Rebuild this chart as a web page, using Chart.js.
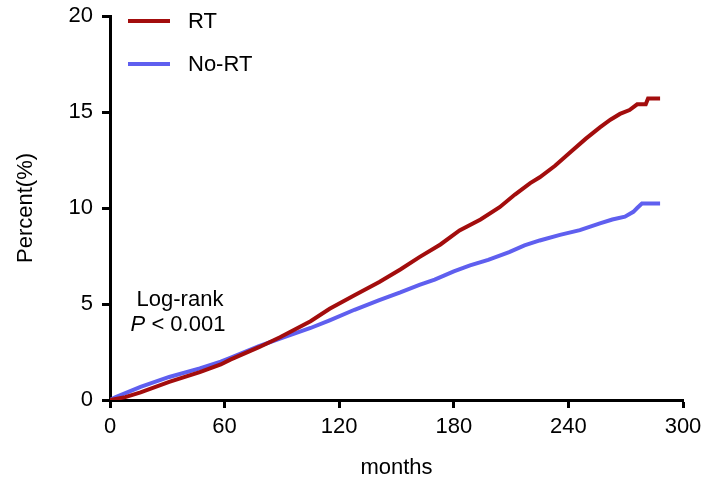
<!DOCTYPE html>
<html>
<head>
<meta charset="utf-8">
<script src="https://cdn.jsdelivr.net/npm/chart.js@4/dist/chart.umd.min.js"></script>
<style>
html,body{margin:0;padding:0;background:#fff;}
#wrap{width:704px;height:481px;position:relative;}
</style>
</head>
<body>
<div id="wrap"><canvas id="c" width="704" height="481"></canvas></div>
<script>
const rtMonths = [0, 8, 16, 31, 47, 58, 63, 78, 89, 105, 115, 128, 141, 152, 162, 173, 183, 194, 204, 212, 220, 225, 233, 241, 249, 256.5, 262, 267, 272, 276, 280.5, 281.7, 288];
const rtPct    = [0, 0.15, 0.4, 0.94, 1.45, 1.85, 2.1, 2.75, 3.27, 4.1, 4.75, 5.45, 6.15, 6.8, 7.44, 8.1, 8.83, 9.4, 10.04, 10.7, 11.3, 11.6, 12.2, 12.9, 13.6, 14.2, 14.6, 14.9, 15.1, 15.4, 15.4, 15.7, 15.7];
const noRtMonths = [0, 3, 16, 31, 47, 58, 63, 78, 89, 105, 115, 128, 141, 152, 162, 170, 180, 188.5, 198, 209, 217, 225, 235.6, 246, 256.5, 263, 269.6, 274, 276, 278.5, 288];
const noRtPct    = [0, 0.15, 0.68, 1.2, 1.65, 2.0, 2.2, 2.8, 3.2, 3.75, 4.15, 4.7, 5.2, 5.6, 6.0, 6.27, 6.7, 7.01, 7.3, 7.7, 8.05, 8.31, 8.6, 8.85, 9.2, 9.4, 9.55, 9.8, 10.0, 10.23, 10.23];
const seriesLabels = ['RT', 'No-RT'];
const seriesColors = ['#A30D0D', '#5F5FEF'];
const xTicks = [0, 60, 120, 180, 240, 300];
const yTicks = [0, 5, 10, 15, 20];
const xTitle = 'months';
const yTitle = 'Percent(%)';
const annot1 = 'Log-rank';
const annotP = 'P';
const annotRest = ' < 0.001';

const FONT = 'Arial, "Liberation Sans", sans-serif';
const FS = 22;

function pts(xs, ys){ return xs.map((x,i)=>({x:x, y:ys[i]})); }

const overlay = {
  id: 'overlay',
  afterDraw(chart){
    const ctx = chart.ctx;
    ctx.save();
    const legY = [21, 64];
    seriesLabels.forEach((lab,i)=>{
      ctx.strokeStyle = seriesColors[i];
      ctx.lineWidth = 4;
      ctx.beginPath();
      ctx.moveTo(128, legY[i]);
      ctx.lineTo(170, legY[i]);
      ctx.stroke();
      ctx.fillStyle = '#000';
      ctx.font = FS + 'px ' + FONT;
      ctx.textAlign = 'left';
      ctx.textBaseline = 'middle';
      ctx.fillText(lab, 188, legY[i] + 1);
    });
    ctx.fillStyle = '#000';
    ctx.font = FS + 'px ' + FONT;
    ctx.textAlign = 'center';
    ctx.textBaseline = 'middle';
    ctx.fillText(annot1, 180, 300);
    ctx.font = 'italic ' + FS + 'px ' + FONT;
    const wP = ctx.measureText(annotP).width;
    ctx.font = FS + 'px ' + FONT;
    const wR = ctx.measureText(annotRest).width;
    const start = 178 - (wP + wR)/2;
    ctx.textAlign = 'left';
    ctx.font = 'italic ' + FS + 'px ' + FONT;
    ctx.fillText(annotP, start, 325);
    ctx.font = FS + 'px ' + FONT;
    ctx.fillText(annotRest, start + wP, 325);
    ctx.restore();
  }
};

new Chart(document.getElementById('c'), {
  type: 'line',
  data: {
    datasets: [
      { label: seriesLabels[0], data: pts(rtMonths, rtPct), borderColor: seriesColors[0], borderWidth: 4, pointRadius: 0, tension: 0, fill: false },
      { label: seriesLabels[1], data: pts(noRtMonths, noRtPct), borderColor: seriesColors[1], borderWidth: 4, pointRadius: 0, tension: 0, fill: false }
    ]
  },
  options: {
    responsive: false,
    animation: false,
    devicePixelRatio: 1,
    layout: { padding: { top: 16, right: 21, left: 13, bottom: 0 } },
    plugins: { legend: { display: false }, tooltip: { enabled: false } },
    scales: {
      x: {
        type: 'linear', min: 0, max: 300,
        afterBuildTicks(s){ s.ticks = xTicks.map(v=>({value:v})); },
        afterFit(s){ s.height = 81; s.paddingLeft = 0; s.paddingRight = 0; },
        grid: { display: true, drawOnChartArea: false, drawTicks: true, tickLength: 8, tickWidth: 3, tickColor: '#000' },
        border: { display: true, color: '#000', width: 3 },
        ticks: { color: '#000', font: { family: FONT, size: FS }, padding: 6, maxRotation: 0 },
        title: { display: true, text: xTitle, color: '#000', font: { family: FONT, size: FS }, padding: { top: 12, bottom: 0 } }
      },
      y: {
        type: 'linear', min: 0, max: 20,
        afterBuildTicks(s){ s.ticks = yTicks.map(v=>({value:v})); },
        afterFit(s){ s.width = 97; s.paddingTop = 0; s.paddingBottom = 0; },
        grid: { display: true, drawOnChartArea: false, drawTicks: true, tickLength: 8, tickWidth: 3, tickColor: '#000' },
        border: { display: true, color: '#000', width: 3 },
        ticks: { color: '#000', font: { family: FONT, size: FS }, padding: 9 },
        title: { display: true, text: yTitle, color: '#000', font: { family: FONT, size: FS }, padding: { top: 0, bottom: 0 } }
      }
    }
  },
  plugins: [overlay]
});
</script>
</body>
</html>
